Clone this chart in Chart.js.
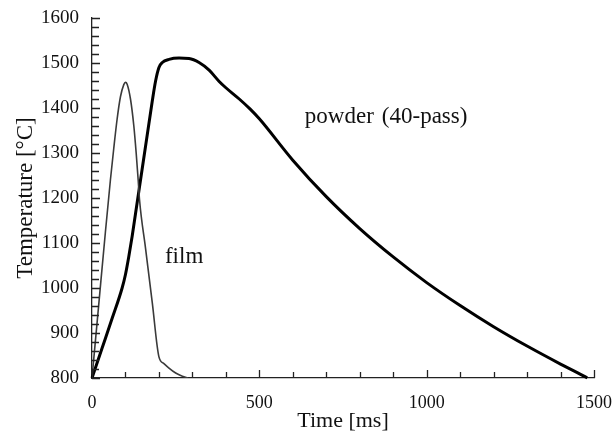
<!DOCTYPE html>
<html>
<head>
<meta charset="utf-8">
<script src="https://cdn.jsdelivr.net/npm/chart.js@4/dist/chart.umd.min.js"></script>
<style>
html,body{margin:0;padding:0;background:#fff;}
#wrap{width:616px;height:439px;position:relative;}
</style>
</head>
<body>
<div id="wrap"><canvas id="c" width="616" height="439"></canvas></div>
<script>
// ---- data ----
const filmTime = [0,20,40,55,65,75,85,95,100,105,115,125,132,138,142,160,180,200,215,230,250,270,287];
const filmTemp = [800,962,1124,1240,1310,1375,1425,1452,1457,1453,1420,1360,1300,1240,1196,1088,968,847,832,822,811,804,800];

const powderTime = [0,30,60,90,100,110,120,130,140,150,160,170,180,190,200,210,230,260,290,320,350,380,400,440,472,500,600,700,800,900,1000,1100,1200,1300,1400,1450,1480];
const powderTemp = [800,866,932,1000,1030,1070,1115,1165,1215,1265,1315,1365,1415,1460,1490,1501,1508,1511,1510,1501,1484,1459,1445,1420,1398,1376,1284,1203,1132,1069,1012,961,914,871,831,812,800];

const xTickValues = [0,500,1000,1500];
const yTickValues = [800,900,1000,1100,1200,1300,1400,1500,1600];
const labels = { film: "film", powder: "powder", pass: "(40-pass)" };
const axisTitles = { x: "Time [ms]", y: "Temperature [°C]" };

const filmPts = filmTime.map((t,i)=>({x:t,y:filmTemp[i]}));
const powderPts = powderTime.map((t,i)=>({x:t,y:powderTemp[i]}));

const SERIF = "'Liberation Serif', 'Times New Roman', serif";

const inwardTicks = {
  id: 'inwardTicks',
  afterDraw(chart) {
    const ctx = chart.ctx;
    const xs = chart.scales.x, ys = chart.scales.y;
    const area = chart.chartArea;
    ctx.save();
    ctx.strokeStyle = '#222';
    ctx.lineWidth = 1.3;
    ctx.beginPath();
    for (let v = xs.min; v <= xs.max + 1e-6; v += 100) {
      const px = Math.round(xs.getPixelForValue(v)) + 0.5;
      const len = (v % 500 === 0) ? 8 : 6;
      ctx.moveTo(px, area.bottom);
      ctx.lineTo(px, area.bottom - len);
    }
    for (let v = ys.min; v <= ys.max + 1e-6; v += 20) {
      const py = Math.round(ys.getPixelForValue(v)) + 0.5;
      const len = (v % 100 === 0) ? 8 : 7;
      ctx.moveTo(area.left, py);
      ctx.lineTo(area.left + len, py);
    }
    ctx.stroke();
    // annotations placed in data coordinates
    ctx.fillStyle = '#111';
    ctx.font = "23px " + SERIF;
    ctx.textBaseline = 'middle';
    ctx.textAlign = 'left';
    ctx.fillText(labels.powder, xs.getPixelForValue(636), ys.getPixelForValue(1380));
    ctx.fillText(labels.pass, xs.getPixelForValue(866), ys.getPixelForValue(1380));
    ctx.fillText(labels.film, xs.getPixelForValue(218), ys.getPixelForValue(1069));
    ctx.restore();
  }
};

new Chart(document.getElementById('c'), {
  type: 'scatter',
  data: {
    datasets: [
      { label: 'film', data: filmPts, showLine: true, borderColor: '#3a3a3a', borderWidth: 1.6,
        pointRadius: 0, cubicInterpolationMode: 'monotone', fill: false },
      { label: 'powder', data: powderPts, showLine: true, borderColor: '#000', borderWidth: 3,
        pointRadius: 0, cubicInterpolationMode: 'monotone', fill: false, clip: false }
    ]
  },
  options: {
    responsive: false,
    animation: false,
    layout: { padding: { left: 0, right: 22, top: 18, bottom: 0 } },
    plugins: { legend: { display: false }, tooltip: { enabled: false } },
    scales: {
      x: {
        type: 'linear', min: 0, max: 1500,
        afterBuildTicks(s) { s.ticks = xTickValues.map(v => ({ value: v })); },
        afterFit(s) { s.height = 61; s.paddingLeft = 0; s.paddingRight = 0; },
        grid: { display: false, drawTicks: false },
        border: { display: true, color: '#222', width: 1.3 },
        ticks: { color: '#111', font: { family: SERIF, size: 18 }, padding: 14, maxRotation: 0, callback: v => String(v) },
        title: { display: true, text: axisTitles.x, color: '#111', font: { family: SERIF, size: 22 }, padding: { top: 0, bottom: 5 } }
      },
      y: {
        type: 'linear', min: 800, max: 1600,
        afterBuildTicks(s) { s.ticks = yTickValues.map(v => ({ value: v })); },
        afterFit(s) { s.width = 92; s.paddingTop = 0; s.paddingBottom = 0; },
        grid: { display: false, drawTicks: false },
        border: { display: true, color: '#222', width: 1.3 },
        ticks: { color: '#111', font: { family: SERIF, size: 19 }, padding: 13, callback: v => String(v) },
        title: { display: true, text: axisTitles.y, color: '#111', font: { family: SERIF, size: 23 }, padding: { top: 12, bottom: 0 } }
      }
    }
  },
  plugins: [inwardTicks]
});
</script>
</body>
</html>
